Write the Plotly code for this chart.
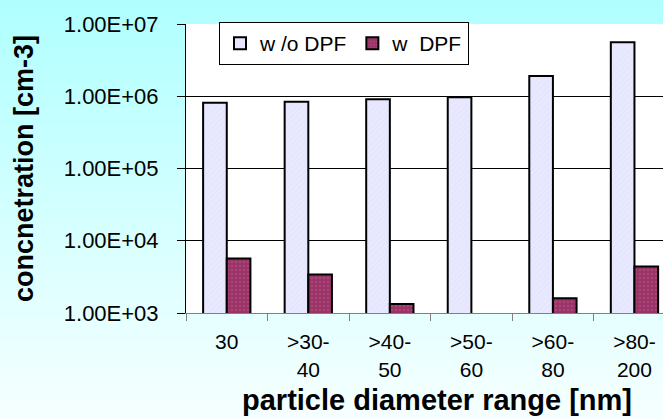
import plotly.graph_objects as go

# ---- data ----
categories = ["30", ">30-40", ">40-50", ">50-60", ">60-80", ">80-200"]
tick_labels = ["30", ">30-<br>40", ">40-<br>50", ">50-<br>60", ">60-<br>80", ">80-<br>200"]
without_dpf = [8.1e5, 8.4e5, 9.1e5, 9.7e5, 1.9e6, 5.6e6]
with_dpf = [5.7e3, 3.4e3, 1.33e3, None, 1.6e3, 4.4e3]
y_tick_values = [1e3, 1e4, 1e5, 1e6, 1e7]
y_tick_labels = ["1.00E+03", "1.00E+04", "1.00E+05", "1.00E+06", "1.00E+07"]
series_names = ["w /o DPF", "w\u00a0 DPF"]
x_title = "particle diameter range [nm]"
y_title = "concnetration [cm-3]"

# ---- layout geometry ----
W, H = 663, 419
ML, MR, MT, MB = 186, 0, 24, 106
PW, PH = W - ML - MR, H - MT - MB
FONT = "Liberation Sans, Arial, sans-serif"


def px_to_paper_x(px):
    return (px - ML) / PW


def px_to_paper_y(py):
    return (H - MB - py) / PH


# vertical gradient background (cyan -> near white) built from strips
shapes = []
n = 70
top_rgb = (0xB0, 0xFF, 0xFF)
bot_rgb = (0xF6, 0xFF, 0xFF)
for i in range(n):
    t = i / (n - 1)
    c = tuple(round(top_rgb[k] + (bot_rgb[k] - top_rgb[k]) * t) for k in range(3))
    y0 = H * i / n
    y1 = H * (i + 1) / n + 1
    shapes.append(dict(type="rect", xref="paper", yref="paper",
                       x0=px_to_paper_x(0), x1=px_to_paper_x(W),
                       y0=px_to_paper_y(y1), y1=px_to_paper_y(y0),
                       fillcolor="rgb(%d,%d,%d)" % c, line=dict(width=0),
                       layer="below"))
# white plot area
shapes.append(dict(type="rect", xref="paper", yref="paper", x0=0, x1=1, y0=0, y1=1,
                   fillcolor="white", line=dict(width=0), layer="below"))

fig = go.Figure()
fig.add_trace(go.Bar(
    x=categories, y=without_dpf, name=series_names[0],
    marker=dict(color="#e6e6ff", line=dict(color="black", width=2),
                pattern=dict(shape="/", fgcolor="#d6d6f4", bgcolor="#e8e8ff",
                             size=4, solidity=0.2)),
))
fig.add_trace(go.Bar(
    x=categories, y=with_dpf, name=series_names[1],
    marker=dict(color="#993366", line=dict(color="black", width=2),
                pattern=dict(shape=".", fgcolor="#b9588a", bgcolor="#993366",
                             size=4, solidity=0.35)),
))

fig.update_layout(
    width=W, height=H,
    margin=dict(l=ML, r=MR, t=MT, b=MB, pad=0),
    paper_bgcolor="#f0ffff",
    plot_bgcolor="rgba(0,0,0,0)",
    barmode="group", bargap=0.42, bargroupgap=0,
    font=dict(family=FONT, size=22, color="black"),
    shapes=shapes,
    showlegend=True,
    legend=dict(orientation="h", x=px_to_paper_x(219), xanchor="left",
                y=px_to_paper_y(22), yanchor="top",
                bgcolor="white", bordercolor="black", borderwidth=1,
                font=dict(family=FONT, size=21, color="black"),
                traceorder="normal"),
    annotations=[dict(text=x_title, xref="paper", yref="paper",
                      x=px_to_paper_x(437), y=px_to_paper_y(400),
                      xanchor="center", yanchor="middle", showarrow=False,
                      borderpad=0,
                      font=dict(family=FONT, size=29, color="black", weight="bold"))],
)

fig.update_yaxes(
    type="log", range=[3, 7], tickvals=y_tick_values, ticktext=y_tick_labels,
    showgrid=True, gridcolor="black", gridwidth=1, zeroline=False,
    showline=True, linecolor="black", linewidth=1,
    ticks="outside", ticklen=8, tickcolor="black", tickwidth=1,
    ticklabelstandoff=14,
    tickfont=dict(family=FONT, size=22, color="black"),
    title=dict(text=y_title, standoff=22,
               font=dict(family=FONT, size=27, color="black", weight="bold")),
)
fig.update_xaxes(
    type="category", range=[-0.5, 5.35],
    tickvals=categories, ticktext=tick_labels,
    tickson="boundaries", ticks="outside", ticklen=7, tickcolor="#808080",
    showline=True, linecolor="#808080", linewidth=1, showgrid=False,
    ticklabelstandoff=10,
    tickfont=dict(family=FONT, size=21, color="black"),
)

fig.write_html("out.html")
